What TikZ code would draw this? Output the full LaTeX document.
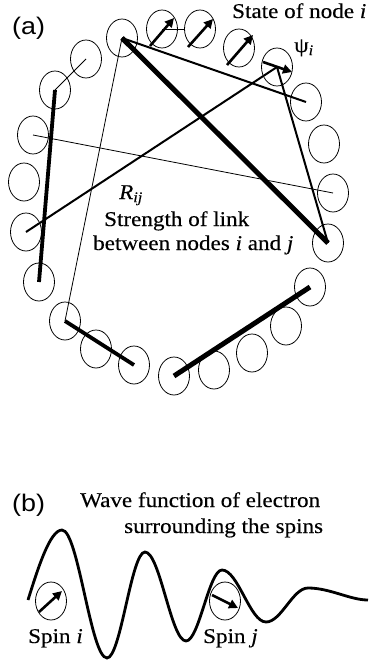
\documentclass[tikz,border=0pt]{standalone}
\usepackage{fontspec}
\setmainfont{Liberation Serif}[FakeStretch=1.1,FakeBold=0.3]
\setsansfont{Liberation Sans}[FakeStretch=1.12]
\usetikzlibrary{shapes.geometric,arrows.meta,calc}
\begin{document}
\begin{tikzpicture}[x=1pt,y=-1pt,
  ell/.style={ellipse,draw,line width=0.8pt,minimum width=31pt,minimum height=38pt,inner sep=0pt},
  thinlink/.style={line width=0.8pt},
  midlink/.style={line width=2pt},
  thicklink/.style={line width=3.8pt},
  heavylink/.style={line width=5pt},
  spinarrow/.style={line width=2.6pt,-{Triangle[length=9pt,width=9pt]}},
  wave/.style={line width=2.8pt},
  lbl/.style={inner sep=0pt,font=\fontsize{21}{25}\selectfont},
  tag/.style={inner sep=0pt,font=\sffamily\fontsize{24}{28}\selectfont}]
\useasboundingbox (0,0) rectangle (368,661);

% ring of nodes
\node[ell] (n1) at (122,38) {};
\node[ell] (n2) at (162,29) {};
\node[ell] (n3) at (200,29) {};
\node[ell] (n4) at (239,48) {};
\node[ell] (n5) at (277,67) {};
\node[ell] (n6) at (306,102) {};
\node[ell] (n7) at (324,144) {};
\node[ell] (n8) at (333,193) {};
\node[ell] (n9) at (328,243) {};
\node[ell] (n10) at (310,287) {};
\node[ell] (n11) at (286,326) {};
\node[ell] (n12) at (252,353) {};
\node[ell] (n13) at (214,370) {};
\node[ell] (n14) at (174,376) {};
\node[ell] (n15) at (134,365) {};
\node[ell] (n16) at (96,349) {};
\node[ell] (n17) at (65,321) {};
\node[ell] (n18) at (39,282) {};
\node[ell] (n19) at (26,232) {};
\node[ell] (n20) at (24,182) {};
\node[ell] (n21) at (33,135) {};
\node[ell] (n22) at (55,90) {};
\node[ell] (n23) at (86,59) {};

% spin states
\draw[spinarrow] ($(n2)+(-12,17)$) -- ($(n2)+(12,-11)$);
\draw[spinarrow] ($(n3)+(-12,18)$) -- ($(n3)+(13,-10)$);
\draw[spinarrow] ($(n4)+(-12,17)$) -- ($(n4)+(14,-13)$);
\draw[spinarrow] ($(n5)+(-14,-5)$) -- ($(n5)+(15,5)$);

% links
\draw[thinlink] (n22.center) -- (n23.center);
\draw[thinlink] (n2.center) -- (n3.west);
\draw[thinlink] (n21.center) -- (n8.center);
\draw[thinlink] (n1.center) -- (n17.center);
\draw[midlink] (n19.center) -- (n5.center);
\draw[midlink] (n1.center) -- (n6.center);
\draw[midlink] (n5.center) -- (n9.center);
\draw[thicklink] (n22.center) -- (n18.center);
\draw[thicklink] (n17.center) -- (n15.center);
\draw[heavylink] (n1.center) -- (n9.center);
\draw[heavylink] (n14.center) -- (n10.center);

% labels (a)
\node[tag,anchor=base west] (taga) at (12,35) {(a)};
\node[lbl,anchor=base west] (statelbl) at (232,18) {State of node \textit{i}};
\node[lbl,anchor=base west] (psilbl) at (294,52) {ψ\textsubscript{\textit{i}}};
\node[lbl,anchor=base west] (rlbl) at (119,199) {\textit{R}\textsubscript{\textit{ij}}};
\node[lbl,anchor=base west] (str1) at (104,226) {Strength of link};
\node[lbl,anchor=base west] (str2) at (93,250) {between nodes \textit{i} and \textit{j}};

% part (b)
\node[tag,anchor=base west] (tagb) at (12,511) {(b)};
\node[lbl,anchor=base west] (wave1) at (80,507) {Wave function of electron};
\node[lbl,anchor=base west] (wave2) at (124,533) {surrounding the spins};

\draw[wave] (28,600) .. controls +(10,-32) and +(-12,0) .. (62,530)
  .. controls +(16.3,0) and +(-16.3,0) .. (107,658)
  .. controls +(13.8,0) and +(-13.8,0) .. (145,552)
  .. controls +(14.9,0) and +(-14.9,0) .. (186,641)
  .. controls +(13,0) and +(-13,0) .. (222,570)
  .. controls +(16,0) and +(-16,0) .. (266,622)
  .. controls +(15.3,0) and +(-15.3,0) .. (308,588)
  .. controls +(22,0) and +(-18,0) .. (368,600);

\node[ell] (si) at (51,601) {};
\node[ell] (sj) at (225,601) {};
\draw[spinarrow] ($(si)+(-12,11)$) -- ($(si)+(11,-10)$);
\draw[spinarrow] ($(sj)+(-13,-6)$) -- ($(sj)+(13,7)$);
\node[lbl,anchor=base west] (spini) at (28,643) {Spin \textit{i}};
\node[lbl,anchor=base west] (spinj) at (203,643) {Spin \textit{j}};
\end{tikzpicture}
\end{document}
